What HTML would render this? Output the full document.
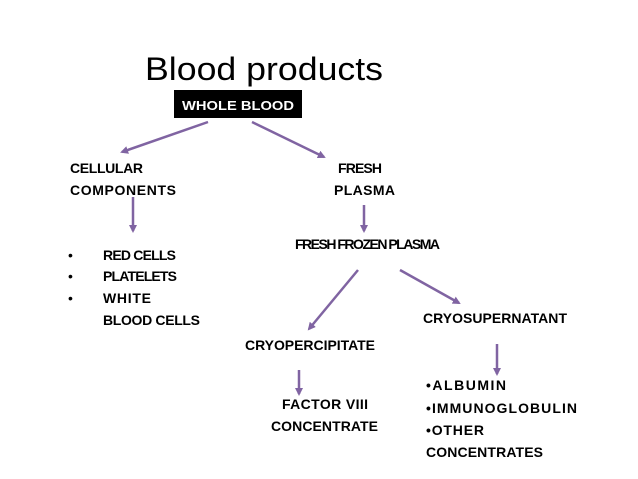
<!DOCTYPE html>
<html><head><style>body{margin:0;background:#fff}svg{display:block}</style></head><body>
<svg width="638" height="479" xmlns="http://www.w3.org/2000/svg" font-family="Liberation Sans, sans-serif">
<defs><marker id="a" markerWidth="8" markerHeight="8" refX="6" refY="4" orient="auto" markerUnits="userSpaceOnUse"><path d="M0,0 L8,4 L0,8 z" fill="#8064a2"/></marker></defs>
<text x="145" y="80" font-size="32" textLength="238" lengthAdjust="spacingAndGlyphs">Blood products</text>
<rect x="174" y="90" width="128" height="28" fill="#000"/>
<text x="238" y="110" font-size="13" font-weight="bold" fill="#fff" text-anchor="middle" textLength="112" lengthAdjust="spacingAndGlyphs">WHOLE BLOOD</text>
<g stroke="#8064a2" stroke-width="2.5" marker-end="url(#a)" fill="none">
<line x1="208" y1="122" x2="122" y2="152"/>
<line x1="252" y1="122" x2="324" y2="157"/>
<line x1="133" y1="197" x2="133" y2="231"/>
<line x1="364" y1="205" x2="364" y2="231"/>
<line x1="358" y1="270" x2="309" y2="329"/>
<line x1="400" y1="270" x2="459" y2="303"/>
<line x1="299" y1="370" x2="299" y2="394"/>
<line x1="497" y1="344" x2="497" y2="374"/>
</g>
<g font-size="14" font-weight="bold" lengthAdjust="spacingAndGlyphs">
<text x="70" y="173" textLength="73">CELLULAR</text>
<text x="70" y="195" textLength="106">COMPONENTS</text>
<text x="338" y="173" textLength="44">FRESH</text>
<text x="334" y="195" textLength="61">PLASMA</text>
<text x="295" y="249" textLength="145">FRESH FROZEN PLASMA</text>
<text x="68" y="260" font-weight="normal">•</text>
<text x="68" y="281" font-weight="normal">•</text>
<text x="68" y="303" font-weight="normal">•</text>
<text x="103" y="260" textLength="73">RED CELLS</text>
<text x="103" y="281" textLength="74">PLATELETS</text>
<text x="103" y="303" textLength="48">WHITE</text>
<text x="103" y="325" textLength="97">BLOOD CELLS</text>
<text x="423" y="323" textLength="144">CRYOSUPERNATANT</text>
<text x="245" y="350" textLength="130">CRYOPERCIPITATE</text>
<text x="282" y="409" textLength="86">FACTOR VIII</text>
<text x="271" y="431" textLength="107">CONCENTRATE</text>
<text x="426" y="390" textLength="80">•ALBUMIN</text>
<text x="426" y="413" textLength="151">•IMMUNOGLOBULIN</text>
<text x="426" y="435" textLength="58">•OTHER</text>
<text x="426" y="457" textLength="117">CONCENTRATES</text>
</g>
</svg>
</body></html>
